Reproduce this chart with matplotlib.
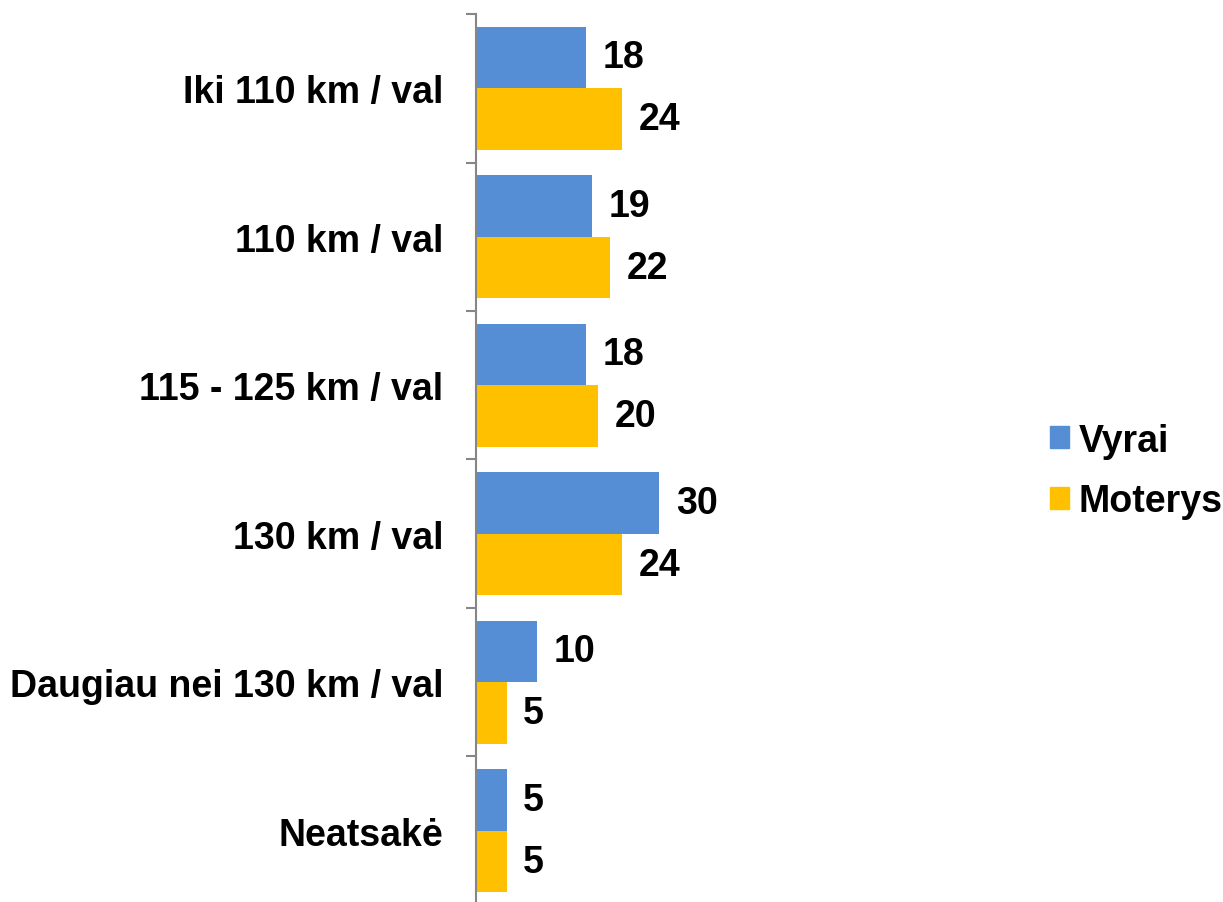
import matplotlib
matplotlib.use("Agg")
import matplotlib.pyplot as plt
import numpy as np
from matplotlib.patches import Patch

categories = ["Iki 110 km / val", "110 km / val", "115 - 125 km / val",
              "130 km / val", "Daugiau nei 130 km / val", "Neatsakė"]
vyrai = [18, 19, 18, 30, 10, 5]
moterys = [24, 22, 20, 24, 5, 5]
series_names = ["Vyrai", "Moterys"]

BLUE = "#558ED5"
GOLD = "#FFC000"
AXIS = "#868686"

plt.rcParams["font.family"] = ["Liberation Sans", "DejaVu Sans"]
plt.rcParams["font.weight"] = "bold"

W, H = 1223, 903
fig = plt.figure(figsize=(W / 100, H / 100), dpi=100)
left, right, top, bottom = 476, 720, 15, 906
ax = fig.add_axes([left / W, 1 - bottom / H, (right - left) / W, (bottom - top) / H])

n = len(categories)
y = np.arange(n)
h = 0.415
ax.barh(y - h / 2, vyrai, h, color=BLUE, label=series_names[0])
ax.barh(y + h / 2, moterys, h, color=GOLD, label=series_names[1])

fs = 27
for yi, v in zip(y, vyrai):
    ax.annotate(str(v), (v, yi - h / 2), xytext=(12, 0), textcoords="offset points",
                va="center", ha="left", fontsize=fs, fontweight="bold")
for yi, v in zip(y, moterys):
    ax.annotate(str(v), (v, yi + h / 2), xytext=(12, 0), textcoords="offset points",
                va="center", ha="left", fontsize=fs, fontweight="bold")

ax.set_xlim(0, 40)
ax.set_ylim(n - 0.5, -0.5)
ax.set_yticks(y)
ax.set_yticklabels(categories, fontsize=fs, fontweight="bold")
ax.set_yticks(np.arange(n + 1) - 0.5, minor=True)
ax.tick_params(axis="y", which="major", length=0, pad=23.5)
ax.tick_params(axis="y", which="minor", length=7.5, width=1.5, color=AXIS)
ax.set_xticks([])
for s in ["top", "right", "bottom"]:
    ax.spines[s].set_visible(False)
ax.spines["left"].set_color(AXIS)
ax.spines["left"].set_linewidth(1.5)

handles = [Patch(color=BLUE, label=series_names[0]), Patch(color=GOLD, label=series_names[1])]
fig.legend(handles=handles, loc="center left", bbox_to_anchor=(1016 / W, 1 - 472 / H),
           frameon=False, prop={"weight": "bold", "size": fs},
           handlelength=0.52, handleheight=0.52, handletextpad=0.25, labelspacing=0.66)

fig.savefig("out.png", dpi=100)
